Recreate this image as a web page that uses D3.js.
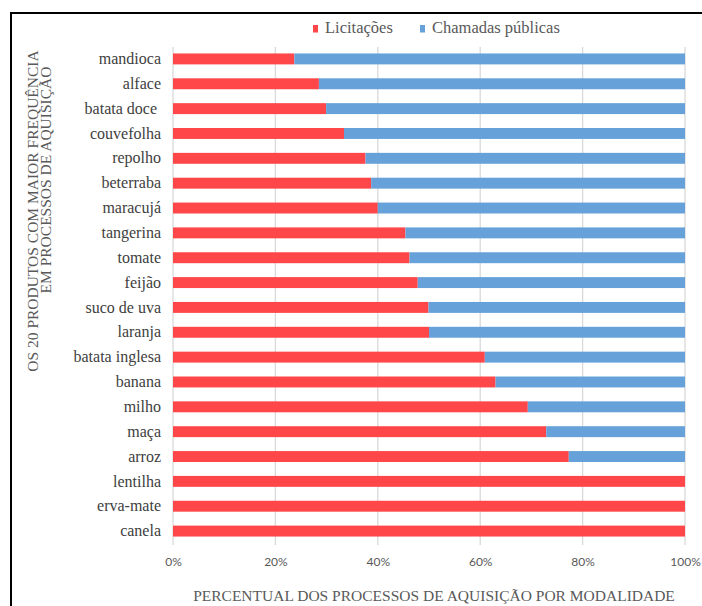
<!DOCTYPE html>
<html>
<head>
<meta charset="utf-8">
<script src="https://cdn.jsdelivr.net/npm/d3@7"></script>
<style>
  html, body { margin: 0; padding: 0; background: #fff; }
  svg { display: block; }
</style>
</head>
<body>
<div id="chart"></div>
<script>
// data
const categories = ['mandioca', 'alface', 'batata doce ', 'couvefolha', 'repolho', 'beterraba',
  'maracujá', 'tangerina', 'tomate', 'feijão', 'suco de uva', 'laranja', 'batata inglesa',
  'banana', 'milho', 'maça', 'arroz', 'lentilha', 'erva-mate', 'canela'];
const licitacoes = [23.7, 28.5, 29.9, 33.4, 37.6, 38.7, 40.0, 45.4, 46.2, 47.8, 49.9, 50.0,
  60.9, 63.0, 69.3, 72.9, 77.3, 100, 100, 100];
const chamadas = licitacoes.map(v => 100 - v);
const xTicks = [0, 20, 40, 60, 80, 100];
const seriesNames = ['Licitações', 'Chamadas públicas'];

const W = 702, H = 606;
const serif = '"Liberation Serif", "Times New Roman", serif';
const colors = ['#ff474a', '#66a2d9'];

const svg = d3.select('#chart').append('svg')
  .attr('width', W)
  .attr('height', H);

// frame
svg.append('path')
  .attr('d', 'M11,606 L11,13 L702,13')
  .attr('fill', 'none')
  .attr('stroke', '#000')
  .attr('stroke-width', 2);

const x = d3.scaleLinear().domain([0, 100]).range([173, 685]);
const y = d3.scaleBand().domain(categories)
  .range([46.5, 543.5])
  .paddingInner(0.56)
  .paddingOuter(0.28);

// gridlines
svg.append('g')
  .selectAll('line')
  .data(xTicks)
  .join('line')
  .attr('x1', d => x(d))
  .attr('x2', d => x(d))
  .attr('y1', 47)
  .attr('y2', 545)
  .attr('stroke', '#d9d9d9')
  .attr('stroke-width', 1.3);

// stacked bars
const rows = categories.map((c, i) => ({ c, a: licitacoes[i], b: chamadas[i] }));
const bars = svg.append('g');
bars.selectAll('rect.lic')
  .data(rows)
  .join('rect')
  .attr('class', 'lic')
  .attr('x', x(0))
  .attr('y', d => y(d.c))
  .attr('width', d => x(d.a) - x(0))
  .attr('height', y.bandwidth())
  .attr('fill', colors[0]);
bars.selectAll('rect.cha')
  .data(rows.filter(d => d.b > 0))
  .join('rect')
  .attr('class', 'cha')
  .attr('x', d => x(d.a))
  .attr('y', d => y(d.c))
  .attr('width', d => x(d.a + d.b) - x(d.a))
  .attr('height', y.bandwidth())
  .attr('fill', colors[1]);

// category labels
const yAxis = d3.axisLeft(y).tickSize(0).tickPadding(0);
const yg = svg.append('g')
  .attr('transform', 'translate(161,0)')
  .call(yAxis);
yg.select('.domain').remove();
yg.selectAll('text')
  .attr('font-family', serif)
  .attr('font-size', 16)
  .attr('fill', '#404040')
  .attr('dy', '0.32em')
  .style('white-space', 'pre');

// x tick labels
const xAxis = d3.axisBottom(x).tickValues(xTicks).tickFormat(d => d + '%').tickSize(0).tickPadding(0);
const xg = svg.append('g')
  .attr('transform', 'translate(0,557)')
  .call(xAxis);
xg.select('.domain').remove();
xg.selectAll('text')
  .attr('font-family', 'Lato, "Open Sans", sans-serif')
  .attr('font-size', 12)
  .attr('fill', '#595959');

// axis titles
svg.append('text')
  .attr('x', 434)
  .attr('y', 601)
  .attr('text-anchor', 'middle')
  .attr('font-family', serif)
  .attr('font-size', 15.5)
  .attr('fill', '#595959')
  .text('PERCENTUAL DOS PROCESSOS DE AQUISIÇÃO POR MODALIDADE');

svg.append('text')
  .attr('transform', 'translate(37.5,211) rotate(-90)')
  .attr('text-anchor', 'middle')
  .attr('font-family', serif)
  .attr('font-size', 15.5)
  .attr('fill', '#595959')
  .text('OS 20 PRODUTOS COM MAIOR FREQUÊNCIA');
svg.append('text')
  .attr('transform', 'translate(51,180) rotate(-90)')
  .attr('text-anchor', 'middle')
  .attr('font-family', serif)
  .attr('font-size', 15.5)
  .attr('fill', '#595959')
  .text('EM PROCESSOS DE AQUISIÇÃO');

// legend
const legendX = [313, 420];
const legend = svg.append('g');
seriesNames.forEach((name, i) => {
  legend.append('rect')
    .attr('x', legendX[i])
    .attr('y', 25)
    .attr('width', 5)
    .attr('height', 7.5)
    .attr('fill', colors[i]);
  legend.append('text')
    .attr('x', legendX[i] + 12)
    .attr('y', 33)
    .attr('font-family', serif)
    .attr('font-size', 16.5)
    .attr('fill', '#595959')
    .text(name);
});
</script>
</body>
</html>
